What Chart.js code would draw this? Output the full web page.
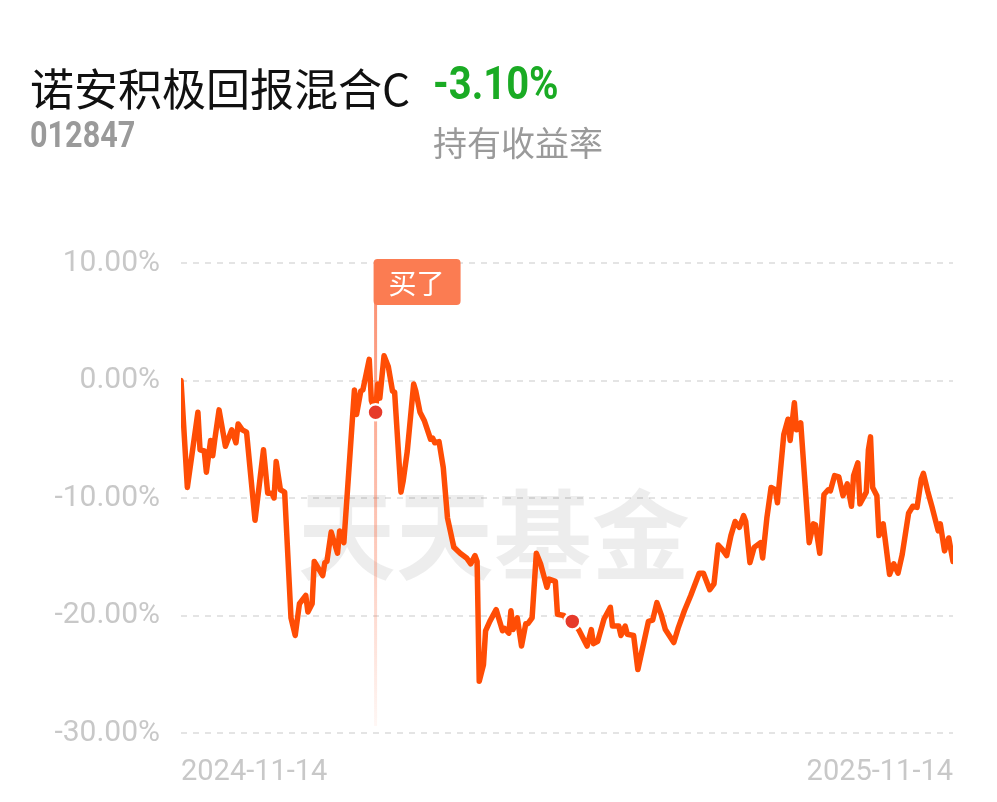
<!DOCTYPE html>
<html>
<head>
<meta charset="utf-8">
<script src="https://cdn.jsdelivr.net/npm/chart.js@4/dist/chart.umd.min.js"></script>
<style>
    body { margin: 0; background: #fff; width: 997px; height: 802px; overflow: hidden; position: relative; }
    #wrap { position: absolute; left: 0; top: 0; width: 997px; height: 802px; }
    .hd { position: absolute; white-space: nowrap; line-height: 1; }
    #title { left: 30px; top: 55px; font: 400 44px "Noto Sans CJK SC", sans-serif; color: #111; }
    #rate { left: 433px; top: 55px; font: 700 47px Roboto, sans-serif; color: #1aab24; transform: scaleX(0.85); transform-origin: left top; }
    #code { left: 30px; top: 114px; font: 700 36px Roboto, sans-serif; color: #9a9a9a; transform: scaleX(0.85); transform-origin: left top; }
    #rateLabel { left: 433px; top: 117px; font: 400 34px "Noto Sans CJK SC", sans-serif; color: #9a9a9a; }
</style>
</head>
<body>
<div id="wrap"><canvas id="myChart" width="997" height="802"></canvas></div>
<div class="hd" id="title">诺安积极回报混合C</div>
<div class="hd" id="rate">-3.10%</div>
<div class="hd" id="code">012847</div>
<div class="hd" id="rateLabel">持有收益率</div>
<script>
// дни от 2024-11-14 и доходность, %
const days = [0, 3, 8, 9, 11, 12, 14, 15, 16, 18, 21, 24, 26, 27, 29, 31, 35, 39, 41, 43, 44, 45, 47, 49,
    52, 54, 56, 59, 60, 62, 63, 67, 68, 69, 71, 74, 75, 77, 80, 82, 83, 85, 86, 89, 90, 92, 93, 94,
    96, 98, 100, 101, 104, 105, 107, 110, 111, 113, 115, 118, 119, 120, 122, 124, 126, 129, 132, 135,
    137, 139, 140, 141, 143, 144, 146, 149, 152, 153, 155, 156, 157, 159, 161, 163, 164, 166, 168, 170,
    173, 174, 177, 178, 181, 182, 185, 188, 192, 194, 195, 197, 200, 203, 204, 207, 208, 210, 211, 214,
    216, 221, 223, 225, 227, 229, 233, 235, 238, 241, 245, 247, 250, 252, 254, 256, 258, 260, 262, 264,
    266, 267, 269, 271, 274, 275, 277, 279, 281, 282, 285, 287, 288, 290, 291, 293, 297, 299, 300, 302,
    304, 306, 307, 309, 311, 313, 315, 317, 318, 320, 321, 324, 325, 326, 327, 329, 330, 332, 335, 337,
    339, 341, 344, 346, 348, 350, 351, 353, 355, 358, 359, 361, 363, 365];
const returns = [0, -9.1, -2.7, -5.9, -6.0, -7.8, -5.1, -6.4, -5.0, -2.5, -5.6, -4.2, -5.3, -3.7, -4.2, -4.4, -11.9, -5.9, -9.6, -9.6, -10.0, -6.9, -9.3, -9.5,
    -20.2, -21.7, -19.0, -18.3, -19.7, -19.0, -15.4, -16.6, -15.5, -15.4, -12.9, -14.7, -12.8, -13.8, -6.0, -0.8, -2.9, -0.9, -0.8, 1.8, -1.7, -2.7, -0.3, -1.5,
    2.1, 1.2, -0.9, -1.0, -9.5, -8.6, -6.0, -0.3, -0.9, -2.7, -3.4, -5.0, -4.9, -5.3, -5.2, -7.4, -11.7, -14.2, -14.7, -15.1,
    -15.6, -14.9, -15.4, -25.6, -24.2, -21.3, -20.5, -19.5, -21.3, -21.1, -21.5, -19.6, -21.2, -20.2, -22.6, -20.7, -20.7, -20.2, -14.7, -15.6,
    -17.6, -16.9, -17.1, -19.9, -20.0, -20.3, -20.5, -21.2, -22.6, -21.2, -22.4, -22.2, -20.3, -19.3, -20.9, -20.9, -21.7, -20.9, -21.6, -21.7,
    -24.6, -20.5, -20.4, -18.9, -19.9, -21.2, -22.3, -21.1, -19.6, -18.3, -16.4, -16.4, -17.8, -17.3, -14.0, -14.4, -14.9, -13.2, -12.0, -12.5,
    -11.5, -12.0, -15.5, -14.2, -13.8, -15.1, -11.7, -9.1, -9.3, -10.4, -4.6, -3.3, -5.1, -1.9, -4.2, -3.6, -13.8, -12.2, -12.3, -14.7,
    -9.7, -9.3, -9.4, -8.1, -8.2, -9.8, -8.8, -10.7, -8.1, -7.0, -10.5, -9.5, -5.9, -4.8, -9.1, -9.8, -13.2, -12.2, -16.5, -15.6,
    -16.4, -14.8, -11.3, -10.7, -10.8, -8.4, -7.9, -9.4, -10.7, -12.8, -12.2, -14.5, -13.4, -15.4];

const yTicks = [10, 0, -10, -20, -30];
const xTickLabels = ['2024-11-14', '2025-11-14'];
const buyDay = 92;
const markDays = [92, 185];
const buyText = '买了';
const watermark = '天天基金';

const points = days.map((d, i) => ({ x: d, y: returns[i] }));

// водяной знак и метка покупки
const decor = {
    id: 'decor',
    beforeDatasetsDraw(chart) {
        const { ctx, chartArea, scales } = chart;
        ctx.save();
        ctx.font = '700 98px "Noto Sans CJK SC"';
        ctx.fillStyle = 'rgba(0,0,0,0.07)';
        ctx.textAlign = 'center';
        ctx.textBaseline = 'middle';
        ctx.fillText(watermark, chartArea.left + chartArea.width * 0.405, 535);

        const bx = scales.x.getPixelForValue(buyDay);
        const grad = ctx.createLinearGradient(0, 300, 0, 728);
        grad.addColorStop(0, 'rgba(250,110,70,0.75)');
        grad.addColorStop(0.6, 'rgba(250,110,70,0.35)');
        grad.addColorStop(1, 'rgba(250,110,70,0.05)');
        ctx.strokeStyle = grad;
        ctx.lineWidth = 3;
        ctx.beginPath();
        ctx.moveTo(bx, 300);
        ctx.lineTo(bx, 726);
        ctx.stroke();
        ctx.restore();
    },
    afterDraw(chart) {
        const { ctx, scales } = chart;
        const bx = scales.x.getPixelForValue(buyDay);
        ctx.save();
        ctx.fillStyle = '#fb7c52';
        ctx.beginPath();
        ctx.roundRect(bx - 2, 259, 87, 46, 4);
        ctx.fill();
        ctx.fillStyle = '#fff';
        ctx.font = '400 28px "Noto Sans CJK SC"';
        ctx.textAlign = 'center';
        ctx.textBaseline = 'middle';
        ctx.fillText(buyText, bx + 41, 283);
        ctx.restore();
    }
};

const ctx = document.getElementById('myChart').getContext('2d');
const myChart = new Chart(ctx, {
    type: 'line',
    data: {
        datasets: [{
            data: points,
            borderColor: '#ff4d05',
            borderWidth: 5.5,
            borderJoinStyle: 'round',
            borderCapStyle: 'round',
            tension: 0,
            fill: false,
            pointRadius: c => markDays.includes(c.raw && c.raw.x) ? 8 : 0,
            pointHoverRadius: 0,
            pointBackgroundColor: '#e63a2a',
            pointBorderColor: '#fff',
            pointBorderWidth: 2.5
        }]
    },
    plugins: [decor],
    options: {
        responsive: false,
        animation: false,
        layout: { padding: { top: 263, right: 44, bottom: 0, left: 0 } },
        plugins: { legend: { display: false }, tooltip: { enabled: false } },
        scales: {
            x: {
                type: 'linear',
                min: 0,
                max: 365,
                afterFit: s => { s.height = 69; },
                afterBuildTicks: s => { s.ticks = [{ value: 0 }, { value: 365 }]; },
                grid: { display: false },
                border: { display: false },
                ticks: {
                    align: 'inner',
                    maxRotation: 0,
                    padding: 14,
                    color: '#c8c8c8',
                    font: { family: 'Roboto', size: 29 },
                    callback: v => v === 0 ? xTickLabels[0] : xTickLabels[1]
                }
            },
            y: {
                min: -30,
                max: 10,
                afterFit: s => { s.width = 181; },
                afterBuildTicks: s => { s.ticks = yTicks.map(v => ({ value: v })); },
                grid: { color: '#e4e4e4', lineWidth: 2, drawTicks: false },
                border: { display: false, dash: [6, 6] },
                ticks: {
                    padding: 21,
                    color: '#c8c8c8',
                    font: { family: 'Roboto', size: 30 },
                    callback: v => v.toFixed(2) + '%'
                }
            }
        }
    }
});
</script>
</body>
</html>
